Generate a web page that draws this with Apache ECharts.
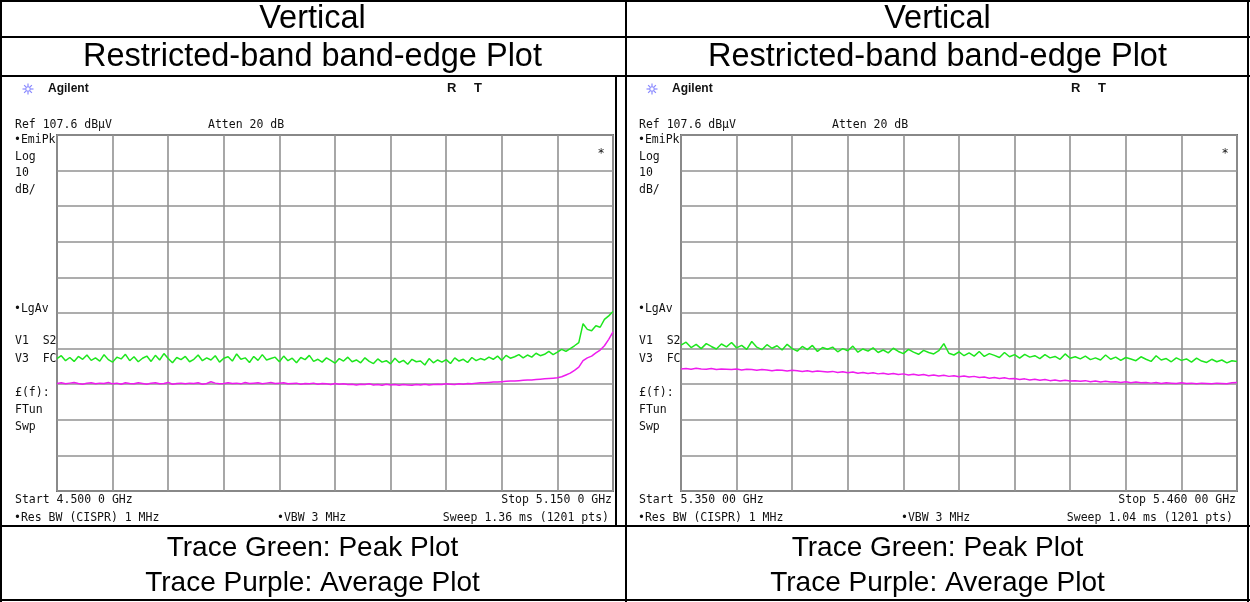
<!DOCTYPE html>
<html>
<head>
<meta charset="utf-8">
<script src="https://cdn.jsdelivr.net/npm/echarts@6/dist/echarts.min.js"></script>
<style>
html,body{margin:0;padding:0;background:#fff;}
#chart{width:1250px;height:602px;}
</style>
</head>
<body>
<div id="chart"></div>
<script>
// Reference level and scale (dBµV), 10 dB/div, 10 divisions
const REF_LEVEL = 107.6;
const DB_PER_DIV = 10;

// Left panel: 4.500 0 GHz .. 5.150 0 GHz, sampled every 5 MHz (offset in MHz from start)
const leftSpanMHz = 650;
const leftStepMHz = 5;
const leftPeak = [
  44.8, 45.6, 44.2, 45.1, 44.0, 45.4, 44.6, 45.8, 44.3, 45.0,
  44.1, 45.9, 44.5, 43.8, 45.2, 44.7, 46.0, 44.2, 45.3, 43.9,
  44.9, 45.5, 44.0, 45.7, 44.4, 46.2, 44.8, 43.6, 45.1, 44.5,
  45.4, 43.9, 44.6, 45.8, 44.2, 45.0, 44.4, 45.6, 43.8, 44.9,
  45.3, 44.1, 46.1, 44.6, 45.0, 43.7, 45.4, 44.3, 45.9, 44.4,
  44.8, 45.2, 43.9, 45.5, 44.2, 44.9, 43.6, 45.1, 44.5, 45.7,
  44.0, 44.6, 43.8, 45.0, 44.3, 43.5, 44.8, 44.1, 45.2, 43.9,
  44.4, 43.6, 45.0, 44.0, 43.4, 44.7, 43.8, 44.2, 43.3, 44.9,
  43.7, 44.3, 43.2, 44.6, 43.9, 44.1, 43.0, 44.8, 43.6, 44.4,
  43.8, 44.5, 43.4, 45.0, 44.1, 44.6, 43.7, 45.1, 44.2, 44.8,
  44.4, 45.2, 44.6, 45.5, 44.3, 45.7, 44.9, 45.3, 45.9, 45.0,
  45.8, 45.2, 46.3, 45.6, 46.0, 46.8, 45.9, 46.6, 47.4, 46.8,
  47.6, 48.4, 49.3, 54.6, 53.0, 52.6, 54.0, 53.6, 55.8, 56.8, 58.0
];
const leftAvg = [
  37.8, 38.0, 37.7, 37.9, 38.1, 37.8, 37.6, 37.9, 38.0, 37.7,
  37.9, 37.8, 38.1, 37.7, 37.9, 37.6, 38.0, 37.8, 37.7, 38.0,
  37.8, 37.6, 37.9, 38.0, 37.7, 37.8, 38.1, 37.6, 37.8, 37.9,
  37.7, 37.9, 37.8, 38.0, 37.6, 37.8, 38.3, 37.9, 37.7, 37.8,
  38.0, 37.8, 37.9, 37.7, 38.1, 37.8, 37.9, 38.0, 37.7, 37.9,
  38.1, 37.8, 37.9, 38.0, 37.7, 37.8, 37.9, 37.6, 37.8, 37.7,
  37.9, 37.6, 37.8, 37.7, 37.5, 37.8, 37.6, 37.7, 37.5, 37.6,
  37.4, 37.6, 37.5, 37.7, 37.4, 37.5, 37.3, 37.6, 37.4, 37.5,
  37.3, 37.5, 37.4, 37.3, 37.5, 37.4, 37.6, 37.4, 37.5, 37.6,
  37.5, 37.7, 37.6, 37.5, 37.7, 37.6, 37.8, 37.7, 37.9, 38.0,
  38.0, 38.1, 38.2, 38.2, 38.3, 38.4, 38.5, 38.5, 38.6, 38.7,
  38.8, 38.8, 38.9, 39.0, 39.1, 39.2, 39.3, 39.4, 39.7, 40.2,
  40.7, 41.5, 42.4, 44.2, 45.0, 45.5, 46.4, 47.2, 48.4, 50.2, 52.3
];

// Right panel: 5.350 00 GHz .. 5.460 00 GHz, sampled every 1 MHz
const rightSpanMHz = 110;
const rightStepMHz = 1;
const rightPeak = [
  48.6, 49.4, 47.9, 48.8, 47.6, 49.0, 48.2, 47.5, 48.9, 48.1,
  49.3, 47.8, 48.5, 47.4, 49.6, 48.0, 47.3, 48.7, 47.7, 48.4,
  47.2, 48.8, 47.6, 46.9, 48.2, 47.3, 48.5, 46.8, 47.9, 47.4,
  48.0, 46.7, 47.6, 47.0, 48.3, 46.6, 47.5, 46.9, 47.8, 46.5,
  47.2, 46.4, 47.7, 46.8, 46.2, 47.4, 46.6, 46.0, 47.1, 46.5,
  46.1, 47.0, 49.0, 46.3, 45.8, 46.7, 45.6, 46.4, 45.5, 46.8,
  45.4, 46.2, 45.7, 45.1, 46.5, 45.3, 45.9, 44.9, 46.0, 45.2,
  45.6, 44.8, 45.9, 45.0, 45.4, 44.6, 46.1, 44.9, 45.3, 44.7,
  45.5, 44.5, 45.0, 44.4, 45.8, 44.6, 45.2, 44.3, 45.1, 44.7,
  44.2, 45.3, 44.6, 44.0, 45.6, 44.4, 44.8, 43.9, 45.0, 44.3,
  44.7, 43.8, 44.9, 44.1, 43.7, 44.6, 43.9, 44.4, 43.6, 44.2,
  44.0
];
const rightAvg = [
  41.9, 42.0, 41.8, 42.1, 41.9, 41.8, 42.0, 41.7, 41.9, 41.8,
  41.7, 41.9, 41.6, 41.8, 41.7, 41.5, 41.7, 41.6, 41.4, 41.6,
  41.5, 41.3, 41.5, 41.4, 41.2, 41.4, 41.1, 41.3, 41.2, 41.0,
  41.2, 40.9, 41.1, 40.8, 41.0, 40.7, 40.9, 40.6, 40.8, 40.5,
  40.7, 40.4, 40.6, 40.3, 40.5, 40.2, 40.4, 40.1, 40.3, 40.0,
  40.2, 39.9, 40.1, 39.8, 40.0, 39.7, 39.9, 39.6, 39.8, 39.5,
  39.6, 39.3, 39.5, 39.2, 39.4, 39.1, 39.2, 38.9, 39.1, 38.8,
  39.0, 38.7, 38.9, 38.6, 38.8, 38.5, 38.7, 38.5, 38.6, 38.4,
  38.6, 38.3, 38.5, 38.2, 38.4, 38.2, 38.3, 38.1, 38.3, 38.0,
  38.2, 38.0, 38.1, 37.9, 38.1, 37.8, 38.0, 37.9, 37.8, 38.0,
  37.8, 37.9, 37.7, 37.9, 37.8, 37.7, 37.9, 37.8, 37.7, 38.0,
  38.1
];

// Text content
const headerRow1 = 'Vertical';
const headerRow2 = 'Restricted-band band-edge Plot';
const footerRow1 = 'Trace Green: Peak Plot';
const footerRow2 = 'Trace Purple: Average Plot';
const leftStartLabel = 'Start 4.500 0 GHz';
const leftStopLabel = 'Stop 5.150 0 GHz';
const leftSweepLabel = 'Sweep 1.36 ms (1201 pts)';
const rightStartLabel = 'Start 5.350 00 GHz';
const rightStopLabel = 'Stop 5.460 00 GHz';
const rightSweepLabel = 'Sweep 1.04 ms (1201 pts)';

const toPts = (arr, step) => arr.map((v, i) => [i * step, v - REF_LEVEL]);

const chart = echarts.init(document.getElementById('chart'), null, {renderer: 'canvas'});

const GREEN = '#1ee61e';
const MAGENTA = '#ee1cee';
const GRIDC = '#929292';
const MONO = '"DejaVu Sans Mono", "Liberation Mono", monospace';
const SANS = '"Liberation Sans", Arial, sans-serif';

function xAx(gi, span) {
  return {
    type: 'value', gridIndex: gi, min: 0, max: span, interval: span / 10,
    axisLine: {show: false}, axisTick: {show: false}, axisLabel: {show: false},
    splitLine: {show: true, lineStyle: {color: GRIDC, width: 1.6}}
  };
}
function yAx(gi) {
  return {
    type: 'value', gridIndex: gi, min: -10 * DB_PER_DIV, max: 0, interval: DB_PER_DIV,
    axisLine: {show: false}, axisTick: {show: false}, axisLabel: {show: false},
    splitLine: {show: true, lineStyle: {color: GRIDC, width: 1.6}}
  };
}
function lineSeries(gi, data, color) {
  return {
    type: 'line', xAxisIndex: gi, yAxisIndex: gi, data: data, showSymbol: false,
    lineStyle: {color: color, width: 1.5}, itemStyle: {color: color}, animation: false, silent: true
  };
}

function txt(x, y, s, opt) {
  opt = opt || {};
  return {
    type: 'text', x: x, y: y, silent: true, z: 10,
    style: {
      text: s, fill: opt.fill || '#111', font: opt.font || ('11.5px ' + MONO),
      textAlign: opt.align || 'left', textVerticalAlign: 'middle'
    }
  };
}
function hline(x1, x2, y, w, c) {
  return {type: 'line', silent: true, z: 20, shape: {x1: x1, y1: y, x2: x2, y2: y}, style: {stroke: c || '#000', lineWidth: w || 2}};
}
function vline(x, y1, y2, w, c) {
  return {type: 'line', silent: true, z: 20, shape: {x1: x, y1: y1, x2: x, y2: y2}, style: {stroke: c || '#000', lineWidth: w || 2}};
}
function logo(cx, cy) {
  const els = [];
  const r = 5.5;
  for (let k = 0; k < 8; k++) {
    const a = k * Math.PI / 4;
    els.push({type: 'line', silent: true, shape: {x1: cx, y1: cy, x2: cx + r * Math.cos(a), y2: cy + r * Math.sin(a)}, style: {stroke: '#8a8aff', lineWidth: 1.2}});
  }
  els.push({type: 'circle', silent: true, shape: {cx: cx, cy: cy, r: 2.2}, style: {fill: '#fff', stroke: '#8a8aff', lineWidth: 1}});
  return els;
}

function panelText(off, startL, stopL, sweepL) {
  const e = [];
  e.push(...logo(28 + off, 89));
  e.push(txt(48 + off, 89, 'Agilent', {font: 'bold 12px ' + SANS, fill: '#111'}));
  e.push(txt(447 + off, 88, 'R', {font: 'bold 13px ' + SANS, fill: '#111'}));
  e.push(txt(474 + off, 88, 'T', {font: 'bold 13px ' + SANS, fill: '#111'}));
  e.push(txt(15 + off, 125, 'Ref 107.6 dBµV'));
  e.push(txt(208 + off, 125, 'Atten 20 dB'));
  e.push(txt(14 + off, 140, '•EmiPk'));
  e.push(txt(15 + off, 157, 'Log'));
  e.push(txt(15 + off, 173, '10'));
  e.push(txt(15 + off, 190, 'dB/'));
  e.push(txt(14 + off, 309, '•LgAv'));
  e.push(txt(15 + off, 341, 'V1  S2'));
  e.push(txt(15 + off, 359, 'V3  FC'));
  e.push(txt(15 + off, 393, '£(f):'));
  e.push(txt(15 + off, 410, 'FTun'));
  e.push(txt(15 + off, 427, 'Swp'));
  e.push(txt(601 + off, 154, '*', {align: 'center', font: '12px ' + MONO}));
  e.push(txt(15 + off, 500, startL));
  e.push(txt(14 + off, 518, '•Res BW (CISPR) 1 MHz'));
  e.push(txt(277 + off, 518, '•VBW 3 MHz'));
  e.push(txt(612 + off, 500, stopL, {align: 'right'}));
  e.push(txt(609 + off, 518, sweepL, {align: 'right'}));
  return e;
}

const headFont = '32.5px ' + SANS;
const footFont = '28px ' + SANS;
const graphics = [].concat(
  [
    hline(0, 1250, 1, 2), hline(0, 1250, 37, 2), hline(0, 1250, 76, 2),
    hline(0, 1250, 526, 2), hline(0, 1250, 600, 2),
    vline(1, 0, 602, 2), vline(1248, 0, 602, 2), vline(626, 0, 602, 2),
    vline(616, 76, 526, 2),
    txt(312.5, 19, headerRow1, {align: 'center', font: headFont, fill: '#000'}),
    txt(937.5, 19, headerRow1, {align: 'center', font: headFont, fill: '#000'}),
    txt(312.5, 57, headerRow2, {align: 'center', font: headFont, fill: '#000'}),
    txt(937.5, 57, headerRow2, {align: 'center', font: headFont, fill: '#000'}),
    txt(312.5, 548, footerRow1, {align: 'center', font: footFont, fill: '#000'}),
    txt(937.5, 548, footerRow1, {align: 'center', font: footFont, fill: '#000'}),
    txt(312.5, 583, footerRow2, {align: 'center', font: footFont, fill: '#000'}),
    txt(937.5, 583, footerRow2, {align: 'center', font: footFont, fill: '#000'})
  ],
  panelText(0, leftStartLabel, leftStopLabel, leftSweepLabel),
  panelText(624, rightStartLabel, rightStopLabel, rightSweepLabel)
);

chart.setOption({
  animation: false,
  backgroundColor: '#fff',
  grid: [
    {left: 57, top: 135, width: 556, height: 356, show: true, borderColor: '#6e6e6e', borderWidth: 2, backgroundColor: 'transparent'},
    {left: 681, top: 135, width: 556, height: 356, show: true, borderColor: '#6e6e6e', borderWidth: 2, backgroundColor: 'transparent'}
  ],
  xAxis: [xAx(0, leftSpanMHz), xAx(1, rightSpanMHz)],
  yAxis: [yAx(0), yAx(1)],
  series: [
    lineSeries(0, toPts(leftAvg, leftStepMHz), MAGENTA),
    lineSeries(0, toPts(leftPeak, leftStepMHz), GREEN),
    lineSeries(1, toPts(rightAvg, rightStepMHz), MAGENTA),
    lineSeries(1, toPts(rightPeak, rightStepMHz), GREEN)
  ],
  graphic: graphics
});
</script>
</body>
</html>
